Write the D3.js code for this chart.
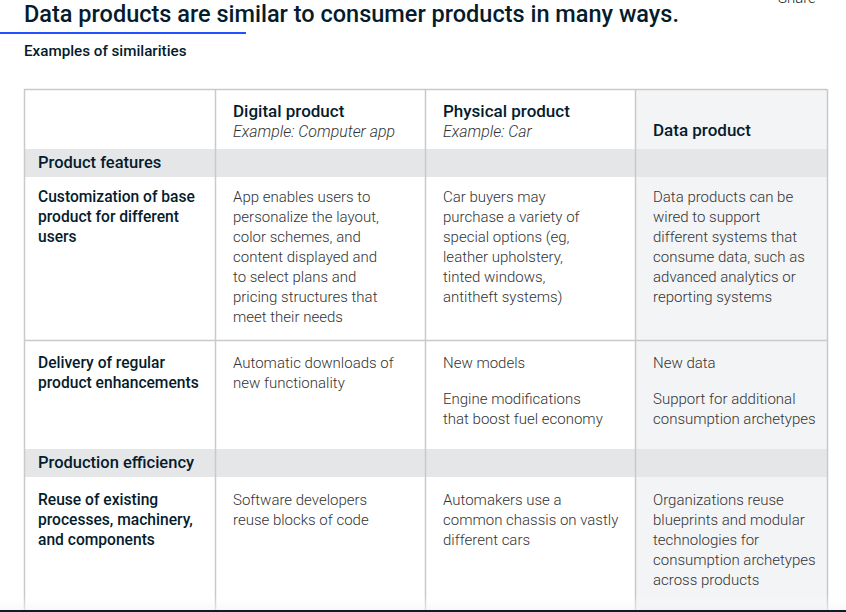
<!DOCTYPE html>
<html>
<head>
<meta charset="utf-8">
<script src="https://cdn.jsdelivr.net/npm/d3@7"></script>
<style>
  html, body { margin: 0; padding: 0; background: #fff; }
  svg { display: block; }
</style>
</head>
<body>
<script>
// ---------- DATA ----------
const title = "Data products are similar to consumer products in many ways.";
const subtitle = "Examples of similarities";
const shareLabel = "Share";

const columnTitles = ["Digital product", "Physical product", "Data product"];
const columnSubtitles = ["Example: Computer app", "Example: Car", ""];

const sectionLabels = ["Product features", "Production efficiency"];

const rowSection = [0, 0, 1];
const rowLabels = [
  ["Customization of base", "product for different", "users"],
  ["Delivery of regular", "product enhancements"],
  ["Reuse of existing", "processes, machinery,", "and components"]
];
const digitalCells = [
  [["App enables users to", "personalize the layout,", "color schemes, and", "content displayed and", "to select plans and", "pricing structures that", "meet their needs"]],
  [["Automatic downloads of", "new functionality"]],
  [["Software developers", "reuse blocks of code"]]
];
const physicalCells = [
  [["Car buyers may", "purchase a variety of", "special options (eg,", "leather upholstery,", "tinted windows,", "antitheft systems)"]],
  [["New models"], ["Engine modifications", "that boost fuel economy"]],
  [["Automakers use a", "common chassis on vastly", "different cars"]]
];
const dataCells = [
  [["Data products can be", "wired to support", "different systems that", "consume data, such as", "advanced analytics or", "reporting systems"]],
  [["New data"], ["Support for additional", "consumption archetypes"]],
  [["Organizations reuse", "blueprints and modular", "technologies for", "consumption archetypes", "across products"]]
];

// ---------- LAYOUT ----------
const W = 846, H = 612;
const FONT = "Roboto, 'Liberation Sans', sans-serif";
const colEdges = [24, 215, 425, 635, 827];
const headerTop = 89, headerH = 60, sectionH = 28;
const rowHeights = [163, 109, 140];
const rowPad = [25, 28, 28];
const lineH = 20, paraGap = 16;
const ink = "#051c2c", body = "#333", border = "#c9c9c9";

const svg = d3.select("body").append("svg")
  .attr("width", W).attr("height", H)
  .style("font-family", FONT);

// title area
svg.append("text").attr("x", 778).attr("y", 3)
  .attr("font-size", 15).attr("font-weight", 300).attr("fill", "#222").text(shareLabel);
svg.append("text").attr("x", 24).attr("y", 22)
  .attr("font-size", 23.5).attr("font-weight", 500).attr("fill", ink).text(title);
svg.append("rect").attr("x", 0).attr("y", 32).attr("width", 246).attr("height", 2).attr("fill", "#2251ff");
svg.append("text").attr("x", 24).attr("y", 56)
  .attr("font-size", 15.2).attr("font-weight", 500).attr("fill", ink).text(subtitle);

// compute row y positions
const rows = [];
let y = headerTop + headerH;
let lastSection = -1;
const sectionRows = [];
rowLabels.forEach((lab, i) => {
  if (rowSection[i] !== lastSection) {
    sectionRows.push({ label: sectionLabels[rowSection[i]], y: y });
    y += sectionH;
    lastSection = rowSection[i];
  }
  rows.push({ label: lab, y: y, h: rowHeights[i], pad: rowPad[i],
    cells: [digitalCells[i], physicalCells[i], dataCells[i]] });
  y += rowHeights[i];
});
const tableBottom = H;

const g = svg.append("g");

// data product column background
g.append("rect").attr("x", colEdges[3]).attr("y", headerTop)
  .attr("width", colEdges[4] - colEdges[3]).attr("height", tableBottom - headerTop)
  .attr("fill", "#f3f4f6");

// section bands
g.selectAll("rect.section").data(sectionRows).join("rect")
  .attr("class", "section")
  .attr("x", colEdges[0]).attr("y", d => d.y)
  .attr("width", colEdges[4] - colEdges[0]).attr("height", sectionH)
  .attr("fill", "#e5e6e8");

// horizontal borders
const hLines = [headerTop];
rows.forEach((r, i) => { if (i > 0 && rowSection[i] === rowSection[i - 1]) hLines.push(r.y); });
g.selectAll("line.h").data(hLines).join("line")
  .attr("class", "h")
  .attr("x1", colEdges[0]).attr("x2", colEdges[4])
  .attr("y1", d => d + 0.5).attr("y2", d => d + 0.5)
  .attr("stroke", border).attr("stroke-width", 1.5);

// vertical borders
g.selectAll("line.v").data(colEdges).join("line")
  .attr("class", "v")
  .attr("x1", d => d + 0.5).attr("x2", d => d + 0.5)
  .attr("y1", headerTop).attr("y2", tableBottom)
  .attr("stroke", border).attr("stroke-width", 1.5);

// header texts
columnTitles.forEach((t, i) => {
  const x = colEdges[i + 1] + 18;
  const sub = columnSubtitles[i];
  g.append("text").attr("x", x).attr("y", sub ? headerTop + 28 : headerTop + 47)
    .attr("font-size", 17).attr("font-weight", 500).attr("fill", ink).text(t);
  if (sub) {
    g.append("text").attr("x", x).attr("y", headerTop + 48)
      .attr("font-size", 15.9).attr("font-style", "italic").attr("font-weight", 300)
      .attr("fill", body).text(sub);
  }
});

// section labels
g.selectAll("text.section").data(sectionRows).join("text")
  .attr("class", "section")
  .attr("x", colEdges[0] + 14).attr("y", d => d.y + 19)
  .attr("font-size", 16.5).attr("font-weight", 500).attr("fill", ink)
  .text(d => d.label);

// row labels and cells
rows.forEach(r => {
  const lt = g.append("text").attr("font-size", 15.6).attr("font-weight", 500).attr("fill", ink);
  r.label.forEach((ln, k) => {
    lt.append("tspan").attr("x", colEdges[0] + 14).attr("y", r.y + r.pad + k * lineH).text(ln);
  });
  r.cells.forEach((paras, c) => {
    const t = g.append("text").attr("font-size", 15).attr("font-weight", 300).attr("fill", body);
    let yy = r.y + r.pad;
    paras.forEach(p => {
      p.forEach(ln => {
        t.append("tspan").attr("x", colEdges[c + 1] + 18).attr("y", yy).text(ln);
        yy += lineH;
      });
      yy += paraGap;
    });
  });
});

// bottom fade + dark rule
const defs = svg.append("defs");
const grad = defs.append("linearGradient").attr("id", "fade").attr("x1", 0).attr("x2", 0).attr("y1", 0).attr("y2", 1);
grad.append("stop").attr("offset", "0%").attr("stop-color", "#fff").attr("stop-opacity", 0);
grad.append("stop").attr("offset", "100%").attr("stop-color", "#f2f2f2").attr("stop-opacity", 0.6);
svg.append("rect").attr("x", 0).attr("y", 596).attr("width", W).attr("height", 14).attr("fill", "url(#fade)");
svg.append("rect").attr("x", 0).attr("y", 610).attr("width", W).attr("height", 2).attr("fill", "#0b1d2a");
</script>
</body>
</html>
